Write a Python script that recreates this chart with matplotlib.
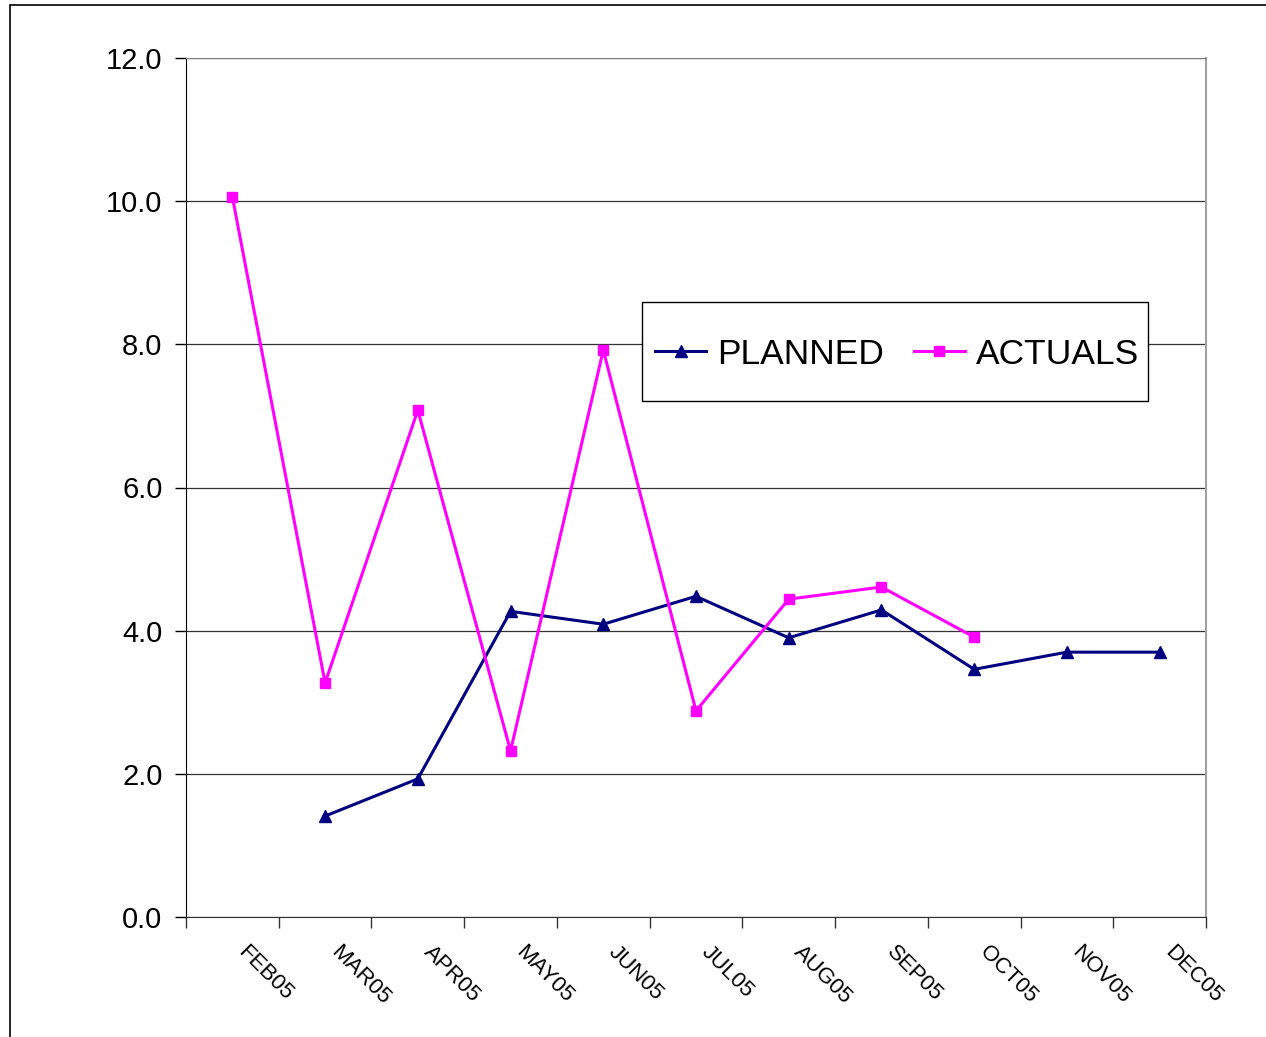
import numpy as np
import matplotlib
matplotlib.use("Agg")
import matplotlib.pyplot as plt
from matplotlib.patches import Rectangle
import matplotlib.transforms as mtransforms

plt.rcParams['font.family'] = ['Liberation Sans', 'DejaVu Sans']

months = ['FEB05', 'MAR05', 'APR05', 'MAY05', 'JUN05', 'JUL05',
          'AUG05', 'SEP05', 'OCT05', 'NOV05', 'DEC05']
planned = [np.nan, 1.41, 1.93, 4.27, 4.09, 4.48, 3.90, 4.29, 3.46, 3.70, 3.70]
actuals = [10.06, 3.27, 7.08, 2.32, 7.92, 2.88, 4.44, 4.61, 3.91, np.nan, np.nan]

fig = plt.figure(figsize=(12.66, 10.37), dpi=100)
ax = fig.add_axes([186 / 1266, 1 - 917 / 1037, 1020 / 1266, 859 / 1037])

# outer chart border (runs off the right and bottom edges)
fig.patches.append(Rectangle((10 / 1266, -0.05), 1.2, 1 - 5 / 1037 + 0.05,
                             transform=fig.transFigure, fill=False,
                             edgecolor='black', linewidth=1.2))

x = np.arange(len(months)) + 0.5
ax.plot(x, planned, color='#000080', linewidth=2.2, marker='^',
        markersize=9, label='PLANNED')
ax.plot(x, actuals, color='#FF00FF', linewidth=2.2, marker='s',
        markersize=7, label='ACTUALS')

ax.set_xlim(0, len(months))
ax.set_ylim(0, 12)
ax.set_yticks(np.arange(0, 12.1, 2))
ax.set_yticklabels([f'{v:.1f}' for v in np.arange(0, 12.1, 2)], fontsize=21)
ax.tick_params(axis='y', length=8, width=1, pad=9, color='black')

ax.set_xticks(x)
ax.set_xticklabels(months, fontsize=16, rotation=-45, ha='left',
                   va='top', rotation_mode='anchor')
ax.tick_params(axis='x', which='major', length=0, pad=18)
ax.set_xticks(np.arange(0, len(months) + 1), minor=True)
ax.tick_params(axis='x', which='minor', length=8, width=1, color='#333333')
offset = mtransforms.ScaledTranslation(16 / 100, 0, fig.dpi_scale_trans)
for lbl in ax.get_xticklabels():
    lbl.set_transform(lbl.get_transform() + offset)

ax.grid(axis='y', color='#333333', linewidth=0.9)
ax.set_axisbelow(True)
ax.spines['left'].set_color('black')
ax.spines['bottom'].set_color('#333333')
ax.spines['top'].set_color('#808080')
ax.spines['right'].set_color('#a0a0a0')
ax.spines['right'].set_linewidth(1.5)

# legend box drawn separately so its padding matches the reference
ax.add_patch(Rectangle((0.447, 0.601), 0.496, 0.115, transform=ax.transAxes,
                       facecolor='white', edgecolor='black', linewidth=1.0,
                       zorder=4))
leg = ax.legend(loc='center', bbox_to_anchor=(0.697, 0.655), ncol=2,
                fontsize=25.5, frameon=False, handlelength=1.45,
                handletextpad=0.3, columnspacing=0.85, borderpad=0.2)
leg.set_zorder(5)

fig.savefig('out.png', dpi=100)
